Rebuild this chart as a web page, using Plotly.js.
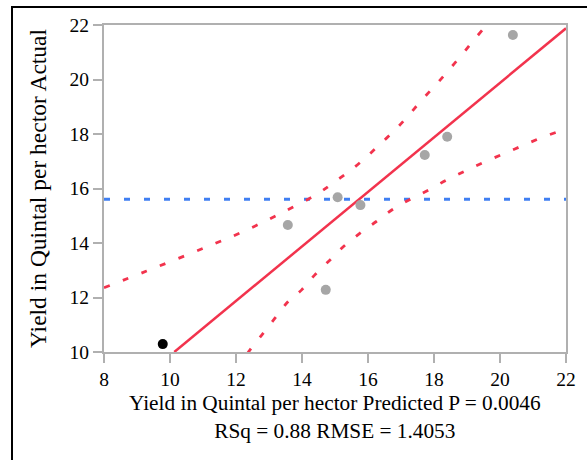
<!DOCTYPE html>
<html>
<head>
<meta charset="utf-8">
<script src="https://cdn.plot.ly/plotly-3.0.1.min.js"></script>
<style>
  html, body { margin: 0; padding: 0; background: #fff; font-family: "Liberation Serif"; }
  #wrap { position: relative; width: 587px; height: 460px; overflow: hidden; }
  #chart { width: 587px; height: 460px; }
  #frame { position: absolute; left: 11px; top: 6px; width: 700px; height: 600px;
           border-left: 2px solid #000; border-top: 2px solid #000; pointer-events: none; }
  #preload { position: absolute; left: -9999px; top: 0; font-family: "Liberation Serif"; font-size: 20px; }
</style>
</head>
<body>
<span id="preload">0123456789 Yield RSq</span>
<div id="wrap">
  <div id="chart"></div>
  <div id="frame"></div>
</div>
<script>
// Observed points: predicted (x) vs actual (y)
const predicted = [9.78, 13.57, 14.72, 15.08, 15.77, 17.72, 18.40, 20.39];
const actual    = [10.29, 14.66, 12.28, 15.68, 15.39, 17.23, 17.90, 21.63];

// Fit line (actual = predicted) endpoints
const fitX = [10.13, 22.0];
const fitY = [10.0, 21.88];

// Mean of actual (horizontal reference line)
const meanActual = 15.61;
const meanX = [8, 22];

// Upper confidence curve
const upperX = [8.0, 9.29, 11.06, 12.20, 13.31, 14.45, 14.95, 15.45, 15.91, 16.36, 16.82, 17.22, 17.63, 18.03, 18.43, 18.84, 19.21, 19.55, 19.65];
const upperY = [12.36, 12.97, 13.83, 14.41, 15.06, 15.79, 16.21, 16.65, 17.11, 17.62, 18.15, 18.67, 19.25, 19.77, 20.32, 20.90, 21.45, 21.94, 22.1];

// Lower confidence curve
const lowerX = [12.35, 12.42, 12.78, 13.18, 13.58, 13.99, 14.39, 14.85, 15.25, 15.76, 16.24, 16.72, 17.27, 17.83, 18.38, 18.94, 19.49, 20.10, 20.66, 21.23, 21.84, 22.0];
const lowerY = [9.95, 10.07, 10.62, 11.24, 11.85, 12.28, 12.83, 13.38, 13.86, 14.36, 14.78, 15.21, 15.60, 15.94, 16.31, 16.64, 16.95, 17.27, 17.56, 17.85, 18.12, 18.18];

// Axis ticks
const xTicks = [8, 10, 12, 14, 16, 18, 20, 22];
const yTicks = [10, 12, 14, 16, 18, 20, 22];

const xTitle = 'Yield in Quintal per hector Predicted P = 0.0046<br>RSq = 0.88 RMSE = 1.4053';
const yTitle = 'Yield in Quintal per hector Actual';

const RED = '#f2334d';
const BLUE = '#3f7ff2';
const GRAY = '#a6a6a6';
const FONT = 'Liberation Serif';

const traces = [
  { x: meanX, y: [meanActual, meanActual], mode: 'lines', type: 'scatter',
    line: { color: BLUE, width: 3, dash: '6px,14px' }, hoverinfo: 'skip' },
  { x: upperX, y: upperY, mode: 'lines', type: 'scatter',
    line: { color: RED, width: 2.8, dash: '6px,14px', shape: 'spline' }, hoverinfo: 'skip' },
  { x: lowerX, y: lowerY, mode: 'lines', type: 'scatter',
    line: { color: RED, width: 2.8, dash: '6px,14px', shape: 'spline' }, hoverinfo: 'skip' },
  { x: fitX, y: fitY, mode: 'lines', type: 'scatter',
    line: { color: RED, width: 2.5 }, hoverinfo: 'skip' },
  { x: predicted, y: actual, mode: 'markers', type: 'scatter',
    marker: { size: 10, color: predicted.map((_, i) => i === 0 ? '#000000' : GRAY) } }
];

const layout = {
  width: 587, height: 460,
  margin: { l: 104, r: 21, t: 25, b: 108 },
  paper_bgcolor: '#fff', plot_bgcolor: '#fff',
  showlegend: false,
  font: { family: FONT, size: 19.5, color: '#000' },
  xaxis: {
    range: [8, 22], tickvals: xTicks,
    showgrid: false, zeroline: false, showline: true, mirror: true,
    linecolor: '#b0b0b0', linewidth: 2,
    ticks: 'outside', ticklen: 9, tickwidth: 2, tickcolor: '#b0b0b0',
    tickfont: { family: FONT, size: 19.5, color: '#000' }
  },
  yaxis: {
    range: [10, 22], tickvals: yTicks,
    showgrid: false, zeroline: false, showline: true, mirror: true,
    linecolor: '#b0b0b0', linewidth: 2,
    ticks: 'outside', ticklen: 9, tickwidth: 2, tickcolor: '#b0b0b0',
    tickfont: { family: FONT, size: 19.5, color: '#000' },
    title: { text: yTitle, font: { family: FONT, size: 23.5, color: '#000' } }
  },
  annotations: [{
    text: xTitle, xref: 'paper', yref: 'paper', x: 0.5, y: -0.113,
    xanchor: 'center', yanchor: 'top', showarrow: false,
    font: { family: FONT, size: 21.3, color: '#000' }
  }]
};

// force font to be resolved before drawing
document.getElementById('preload').getBoundingClientRect();

Plotly.newPlot('chart', traces, layout, { displayModeBar: false, staticPlot: true }).then(() => {
  // force layout / repaint of all SVG texts so the serif font is applied
  document.querySelectorAll('#chart text').forEach(t => {
    t.getBoundingClientRect();
    getComputedStyle(t).fontFamily;
  });
});
</script>
</body>
</html>
